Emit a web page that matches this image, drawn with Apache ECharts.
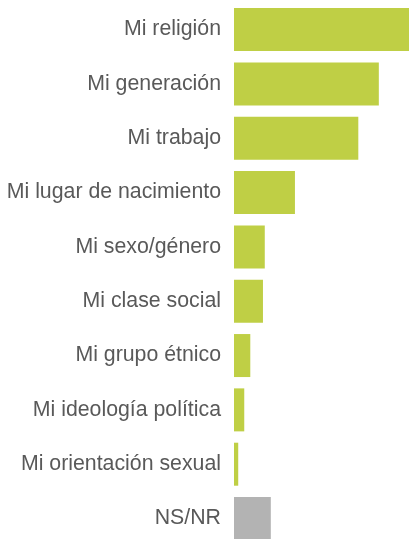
<!DOCTYPE html>
<html>
<head>
<meta charset="utf-8">
<style>
  html, body { margin: 0; padding: 0; background: #ffffff; }
  #chart { width: 409px; height: 539px; }
</style>
<script src="https://cdn.jsdelivr.net/npm/echarts@6/dist/echarts.min.js"></script>
</head>
<body>
<div id="chart"></div>
<script>
// Categories, top to bottom
const categories = [
  'Mi religión',
  'Mi generación',
  'Mi trabajo',
  'Mi lugar de nacimiento',
  'Mi sexo/género',
  'Mi clase social',
  'Mi grupo étnico',
  'Mi ideología política',
  'Mi orientación sexual',
  'NS/NR'
];

// Share of responses (%)
const values = [29, 24, 20.6, 10.1, 5.1, 4.8, 2.7, 1.7, 0.7, 6.1];

const GREEN = '#bfcf45';
const GREY = '#b3b3b3';

const chart = echarts.init(document.getElementById('chart'), null, { renderer: 'canvas' });

chart.setOption({
  animation: false,
  backgroundColor: '#ffffff',
  // the last row runs slightly past the bottom edge
  grid: {
    left: 234, width: 175, top: 2.4, height: 543.3,
    containLabel: false,
    outerBoundsMode: 'none'
  },
  xAxis: {
    type: 'value',
    min: 0,
    max: 29,
    show: false
  },
  yAxis: {
    type: 'category',
    inverse: true,
    data: categories,
    axisLine: { show: false },
    axisTick: { show: false },
    splitLine: { show: false },
    axisLabel: {
      margin: 13,
      color: '#595959',
      fontFamily: 'Liberation Sans, Arial, sans-serif',
      fontSize: 21.3
    }
  },
  series: [{
    type: 'bar',
    barWidth: 43,
    data: values.map((v, i) => ({
      value: v,
      itemStyle: { color: categories[i] === 'NS/NR' ? GREY : GREEN }
    }))
  }]
});
</script>
</body>
</html>
